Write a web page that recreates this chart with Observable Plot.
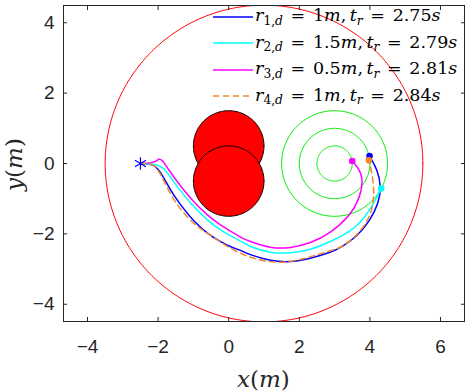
<!DOCTYPE html>
<html><head><meta charset="utf-8">
<script src="https://cdn.jsdelivr.net/npm/d3@7"></script>
<script src="https://cdn.jsdelivr.net/npm/@observablehq/plot@0.6"></script>
<style>
body{margin:0;background:#fff;}
#wrap{position:relative;width:472px;height:391px;overflow:hidden;}
.leg{position:absolute;left:213px;font-family:"DejaVu Serif",serif;font-size:17.5px;color:#000;white-space:nowrap;line-height:1;}
.leg svg{vertical-align:middle;}
.sub{font-size:70%;position:relative;top:0.3em;}
.eq{margin:0 0.12em;}
.lab{position:absolute;font-family:"DejaVu Serif",serif;font-size:23px;color:#262626;white-space:nowrap;line-height:1;}
</style></head><body><div id="wrap"></div>
<script>
// ---- data ----
const seriesNames = ["r1", "r2", "r3", "r4"];
const seriesColors = ["#0000ff", "#00ffff", "#ff00ff", "#f2872b"];
const legendRadius = ["1", "1.5", "0.5", "1"];
const legendTime = ["2.75", "2.79", "2.81", "2.84"];

const r1X = [-2.5,-2.12,-1.93,-1.75,-1.56,-1.27,-0.99,-0.61,-0.24,0.05,0.33,0.61,1.18,1.75,2.31,2.88,3.16,3.64,4.01,4.25,4.32,4.22,3.99];
const r1Y = [0,-0.02,-0.24,-0.57,-0.90,-1.30,-1.64,-1.99,-2.22,-2.37,-2.46,-2.60,-2.77,-2.81,-2.70,-2.53,-2.40,-2.08,-1.61,-1.13,-0.66,-0.19,0.21];
const r2X = [-2.5,-2.08,-1.84,-1.56,-1.27,-0.99,-0.61,-0.24,0.05,0.33,0.61,1.18,1.75,2.31,2.88,3.16,3.64,4.01,4.32];
const r2Y = [0,-0.02,-0.10,-0.52,-0.90,-1.23,-1.61,-1.89,-2.05,-2.20,-2.37,-2.55,-2.55,-2.46,-2.22,-2.09,-1.80,-1.32,-0.71];
const r3X = [-2.5,-2.08,-1.98,-1.89,-1.75,-1.56,-1.27,-0.99,-0.61,-0.24,0.05,0.33,0.61,1.18,1.75,2.31,2.88,3.45,3.68,3.81,3.73,3.50];
const r3Y = [0,0.02,0.15,0.10,-0.10,-0.38,-0.76,-1.09,-1.47,-1.75,-1.92,-2.10,-2.22,-2.41,-2.41,-2.27,-1.99,-1.47,-1.04,-0.57,-0.19,0.07];
const r4X = [-2.5,-2.22,-2.03,-1.75,-1.56,-1.27,-0.90,-0.52,-0.14,0.24,0.61,1.18,1.75,2.31,2.79,3.26,3.73,4.01,4.11,4.11,4.01,3.97];
const r4Y = [0,0,-0.10,-0.66,-1.04,-1.42,-1.80,-2.03,-2.30,-2.51,-2.68,-2.81,-2.81,-2.65,-2.51,-2.37,-1.94,-1.51,-1.04,-0.57,-0.05,0.09];

const startX = [-2.5];
const startY = [0];

const boundaryCenter = [1, 0];
const boundaryRadius = 4.5;
const obstacleCX = [0, 0];
const obstacleCY = [0.5, -0.5];
const obstacleR = [1, 1];
const goalCenter = [3, 0];
const goalRadii = [0.5, 1, 1.5];

const xTicks = [-4, -2, 0, 2, 4, 6];
const yTicks = [-4, -2, 0, 2, 4];

// ---- build tables ----
const trajX = [r1X, r2X, r3X, r4X];
const trajY = [r1Y, r2Y, r3Y, r4Y];
const traj = trajX.map((xs, k) => xs.map((x, i) => ({x, y: trajY[k][i], s: seriesNames[k]})));
const ends = traj.map((t, k) => ({...t[t.length - 1], c: seriesColors[k]}));

function circlePts(cx, cy, r, id, n = 180) {
  const pts = [];
  for (let i = 0; i <= n; i++) {
    const a = (2 * Math.PI * i) / n;
    pts.push({x: cx + r * Math.cos(a), y: cy + r * Math.sin(a), id});
  }
  return pts;
}
const boundary = circlePts(boundaryCenter[0], boundaryCenter[1], boundaryRadius, "b", 360);
const goals = goalRadii.flatMap((r, i) => circlePts(goalCenter[0], goalCenter[1], r, "g" + i));
const obstacles = obstacleCX.map((cx, i) => circlePts(cx, obstacleCY[i], obstacleR[i], "o" + i));
const start = startX.map((x, i) => ({x, y: startY[i]}));

const axisColor = "#262626";
const chart = Plot.plot({
  width: 472, height: 391,
  marginLeft: 63, marginRight: 8, marginTop: 5, marginBottom: 70,
  x: {domain: [-4.68, 6.68]},
  y: {domain: [-4.49, 4.49]},
  style: {fontFamily: "'Liberation Sans', Arial, sans-serif", fontSize: "19px", color: axisColor, background: "white"},
  marks: [
    Plot.line(boundary, {x: "x", y: "y", stroke: "#ff0000", strokeWidth: 1, clip: true}),
    Plot.line(goals, {x: "x", y: "y", z: "id", stroke: "#00ee00", strokeWidth: 1}),
    ...obstacles.map(o => Plot.line(o, {x: "x", y: "y", fill: "#ff0000", stroke: "#000", strokeWidth: 1})),
    Plot.line(traj[0], {x: "x", y: "y", stroke: seriesColors[0], strokeWidth: 1.5, curve: "basis"}),
    Plot.line(traj[1], {x: "x", y: "y", stroke: seriesColors[1], strokeWidth: 1.5, curve: "basis"}),
    Plot.line(traj[2], {x: "x", y: "y", stroke: seriesColors[2], strokeWidth: 1.5, curve: "basis"}),
    Plot.line(traj[3], {x: "x", y: "y", stroke: seriesColors[3], strokeWidth: 1.5, strokeDasharray: "6,4", curve: "basis"}),
    Plot.dot(ends, {x: "x", y: "y", fill: "c", r: 3.3}),
    Plot.dot(start, {x: "x", y: "y", symbol: "asterisk", r: 6, stroke: "#0000ff", strokeWidth: 1.2}),
    Plot.frame({stroke: axisColor, strokeWidth: 1}),
    Plot.axisX(xTicks, {anchor: "bottom", label: null, tickSize: 0, tickPadding: 18, fill: axisColor}),
    Plot.axisX(xTicks, {anchor: "bottom", label: null, tickSize: -4, tickFormat: () => "", stroke: axisColor}),
    Plot.axisX(xTicks, {anchor: "top", label: null, tickSize: -4, tickFormat: () => "", stroke: axisColor}),
    Plot.axisY(yTicks, {anchor: "left", label: null, tickSize: 0, tickPadding: 9, fill: axisColor}),
    Plot.axisY(yTicks, {anchor: "left", label: null, tickSize: -4, tickFormat: () => "", stroke: axisColor}),
    Plot.axisY(yTicks, {anchor: "right", label: null, tickSize: -4, tickFormat: () => "", stroke: axisColor})
  ]
});
const wrap = document.getElementById("wrap");
wrap.appendChild(chart);

// legend
const rowY = [17, 43.5, 70, 96.5];
seriesNames.forEach((s, k) => {
  const d = document.createElement("div");
  d.className = "leg";
  d.style.top = (rowY[k] - 10) + "px";
  const dash = k === 3 ? 'stroke-dasharray="6,4"' : "";
  d.innerHTML = `<svg width="41" height="4" style="vertical-align:middle;margin-right:1px"><line x1="0" y1="2" x2="40" y2="2" stroke="${seriesColors[k]}" stroke-width="1.5" ${dash}/></svg>` +
    `<i>r</i><span class="sub">${k + 1},<i>d</i></span> <span class="eq">=</span> ${legendRadius[k]}<i>m</i>,&#8201;<i>t</i><span class="sub"><i>r</i></span> <span class="eq">=</span> ${legendTime[k]}<i>s</i>`;
  wrap.appendChild(d);
});

// axis titles
const xl = document.createElement("div");
xl.className = "lab";
xl.innerHTML = "<i>x</i>(<i>m</i>)";
wrap.appendChild(xl);
xl.style.left = (263.5 - xl.offsetWidth / 2) + "px";
xl.style.top = (379 - xl.offsetHeight / 2) + "px";

const yl = document.createElement("div");
yl.className = "lab";
yl.innerHTML = "<i>y</i>(<i>m</i>)";
wrap.appendChild(yl);
yl.style.left = (14 - yl.offsetWidth / 2) + "px";
yl.style.top = (164 - yl.offsetHeight / 2) + "px";
yl.style.transform = "rotate(-90deg)";
</script>
</body></html>
